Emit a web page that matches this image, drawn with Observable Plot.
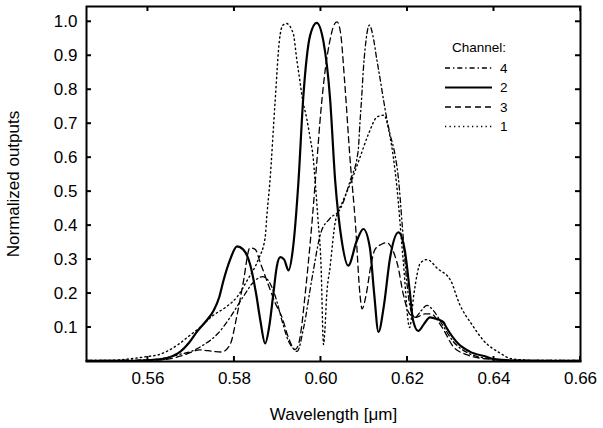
<!DOCTYPE html>
<html><head><meta charset="utf-8">
<script src="https://cdn.jsdelivr.net/npm/d3@7"></script>
<script src="https://cdn.jsdelivr.net/npm/@observablehq/plot@0.6"></script>
<style>body{margin:0;background:#fff;} svg{display:block}</style>
</head><body><div id="chart"></div>
<script>
// ---- data ----
const xTicks = [0.56, 0.58, 0.60, 0.62, 0.64, 0.66];
const yTicks = [0.1, 0.2, 0.3, 0.4, 0.5, 0.6, 0.7, 0.8, 0.9, 1.0];
const legendOrder = ["4", "2", "3", "1"];

const ch1Wavelength = [0.5458,0.552,0.556,0.56,0.5625,0.5644,0.567,0.5695,0.572,0.575,0.578,0.5806,0.583,0.5855,0.5871,0.5875,0.5882,0.5894,0.5904,0.5912,0.592,0.5936,0.5944,0.5952,0.5957,0.5967,0.5975,0.5982,0.5986,0.5993,0.6,0.6006,0.6009,0.6013,0.6021,0.6033,0.605,0.607,0.609,0.611,0.613,0.6145,0.616,0.6175,0.619,0.6205,0.6215,0.623,0.6245,0.627,0.63,0.632,0.635,0.6375,0.6415,0.644,0.65,0.66];
const ch1Output     = [0.003,0.004,0.008,0.015,0.02,0.03,0.05,0.075,0.1,0.135,0.16,0.19,0.24,0.3,0.365,0.43,0.53,0.765,0.946,0.99,0.995,0.965,0.89,0.82,0.775,0.716,0.658,0.6,0.54,0.42,0.29,0.05,0.09,0.19,0.277,0.41,0.47,0.53,0.6,0.67,0.72,0.725,0.66,0.52,0.3,0.1,0.2,0.29,0.3,0.273,0.238,0.17,0.107,0.063,0.024,0.008,0.003,0.003];

const ch2Wavelength = [0.5458,0.556,0.56,0.5625,0.5644,0.566,0.5675,0.5695,0.5713,0.5735,0.5752,0.5765,0.5775,0.579,0.5806,0.582,0.5836,0.585,0.586,0.5871,0.588,0.589,0.5898,0.5906,0.5915,0.5925,0.5935,0.5948,0.5959,0.5975,0.599,0.6006,0.6021,0.6033,0.6048,0.6063,0.6083,0.6098,0.6113,0.6123,0.6133,0.6145,0.616,0.6179,0.6194,0.6205,0.6213,0.6225,0.6238,0.6252,0.6268,0.6283,0.629,0.6317,0.6344,0.6383,0.64,0.645,0.66];
const ch2Output     = [0.002,0.002,0.004,0.006,0.01,0.018,0.029,0.055,0.087,0.12,0.15,0.19,0.24,0.3,0.339,0.33,0.287,0.2,0.12,0.053,0.1,0.2,0.28,0.307,0.3,0.268,0.33,0.53,0.775,0.96,0.997,0.94,0.775,0.53,0.356,0.282,0.356,0.39,0.336,0.2,0.087,0.16,0.307,0.38,0.326,0.21,0.121,0.09,0.11,0.13,0.125,0.116,0.1,0.053,0.029,0.014,0.007,0.003,0.002];

const ch3Wavelength = [0.5458,0.56,0.565,0.5685,0.572,0.575,0.577,0.579,0.5805,0.582,0.5836,0.5848,0.586,0.588,0.5895,0.591,0.5925,0.594,0.5948,0.5955,0.5962,0.597,0.598,0.599,0.6,0.601,0.602,0.603,0.6037,0.6045,0.6055,0.6067,0.608,0.609,0.6095,0.6105,0.6115,0.6125,0.614,0.6152,0.6165,0.6178,0.619,0.6205,0.622,0.624,0.6255,0.627,0.6285,0.6305,0.6337,0.638,0.645,0.66];
const ch3Output     = [0.002,0.003,0.008,0.02,0.034,0.03,0.028,0.05,0.13,0.23,0.335,0.33,0.29,0.22,0.17,0.13,0.07,0.035,0.05,0.1,0.18,0.28,0.42,0.58,0.74,0.86,0.94,0.99,1.0,0.97,0.82,0.6,0.4,0.2,0.155,0.2,0.28,0.33,0.345,0.35,0.33,0.28,0.2,0.14,0.13,0.14,0.14,0.12,0.09,0.045,0.02,0.008,0.003,0.002];

const ch4Wavelength = [0.5458,0.561,0.564,0.567,0.57,0.573,0.576,0.579,0.582,0.5845,0.5865,0.588,0.5895,0.591,0.5925,0.5935,0.5945,0.596,0.598,0.6,0.602,0.6045,0.6067,0.6086,0.609,0.6094,0.6098,0.6102,0.6112,0.612,0.6129,0.6137,0.6144,0.6152,0.616,0.6171,0.6179,0.6188,0.6198,0.6208,0.6218,0.6232,0.6245,0.626,0.628,0.6305,0.634,0.638,0.645,0.66];
const ch4Output     = [0.003,0.005,0.01,0.02,0.03,0.05,0.08,0.13,0.19,0.235,0.25,0.235,0.19,0.12,0.06,0.04,0.03,0.1,0.25,0.38,0.42,0.45,0.53,0.62,0.7,0.775,0.86,0.92,0.99,0.96,0.89,0.83,0.775,0.716,0.668,0.61,0.54,0.4,0.24,0.15,0.13,0.15,0.165,0.15,0.11,0.06,0.025,0.01,0.003,0.003];

const series = [
  {channel: "1", wl: ch1Wavelength, out: ch1Output},
  {channel: "2", wl: ch2Wavelength, out: ch2Output},
  {channel: "3", wl: ch3Wavelength, out: ch3Output},
  {channel: "4", wl: ch4Wavelength, out: ch4Output}
];
const lineStyle = {
  "1": {dash: "1.3,3.2", width: 1.4},
  "2": {dash: null, width: 2.2},
  "3": {dash: "6,4", width: 1.3},
  "4": {dash: "5,3,1.3,3", width: 1.3}
};

const rows = series.flatMap(s => s.wl.map((w, i) => ({channel: s.channel, wavelength: w, output: s.out[i]})));

const W = 603, H = 428;
const font = "'Liberation Sans', Arial, Helvetica, sans-serif";

const plot = Plot.plot({
  width: W, height: H,
  marginLeft: 86, marginRight: 23, marginTop: 6, marginBottom: 67,
  style: {fontFamily: font, fontSize: "17px", background: "#fff", color: "#000"},
  x: {domain: [0.5458, 0.66]},
  y: {domain: [0.0, 1.045]},
  marks: [
    ...series.map(s => Plot.line(rows.filter(r => r.channel === s.channel), {
      x: "wavelength", y: "output", stroke: "#000",
      strokeWidth: lineStyle[s.channel].width,
      strokeDasharray: lineStyle[s.channel].dash,
      curve: "monotone-x"
    })),
    Plot.axisX(xTicks, {anchor: "bottom", tickSize: 0, tickPadding: 10, tickFormat: d3.format(".2f"), fontSize: 17,
      label: "Wavelength [μm]", labelAnchor: "center", labelArrow: "none", labelOffset: 58}),
    Plot.axisY(yTicks, {anchor: "left", tickSize: 0, tickPadding: 9, tickFormat: d3.format(".1f"), fontSize: 17,
      label: "Normalized outputs", labelAnchor: "center", labelArrow: "none", labelOffset: 80}),
    Plot.frame({stroke: "#000", strokeWidth: 2})
  ]
});
document.getElementById("chart").appendChild(plot);

// inward ticks on all four sides, positioned with Plot's own scales
const xs = plot.scale("x"), ys = plot.scale("y");
const [fx0, fx1] = xs.range;
const [fyB, fyT] = ys.range;
const svg = d3.select(plot);
const tg = svg.append("g").attr("stroke", "#000").attr("stroke-width", 2);
const tl = 5;
xTicks.forEach(v => {
  const px = xs.apply(v);
  tg.append("line").attr("x1", px).attr("x2", px).attr("y1", fyB).attr("y2", fyB - tl);
  tg.append("line").attr("x1", px).attr("x2", px).attr("y1", fyT).attr("y2", fyT + tl);
});
yTicks.forEach(v => {
  const py = ys.apply(v);
  tg.append("line").attr("y1", py).attr("y2", py).attr("x1", fx0).attr("x2", fx0 + tl);
  tg.append("line").attr("y1", py).attr("y2", py).attr("x1", fx1).attr("x2", fx1 - tl);
});

// legend inside the frame
const lg = svg.append("g").attr("font-family", font).attr("font-size", 13.5).attr("fill", "#000").attr("text-anchor", "start");
const lx0 = fx1 - 135, lx1 = fx1 - 88, ltx = fx1 - 80;
const ly0 = fyT + 41;
lg.append("text").attr("x", lx0 + 7).attr("y", ly0).attr("dy", "0.35em").text("Channel:");
legendOrder.forEach((c, i) => {
  const yy = ly0 + 21 + i * 19.5;
  lg.append("line").attr("x1", lx0).attr("x2", lx1).attr("y1", yy).attr("y2", yy)
    .attr("stroke", "#000").attr("stroke-width", lineStyle[c].width)
    .attr("stroke-dasharray", lineStyle[c].dash);
  lg.append("text").attr("x", ltx).attr("y", yy).attr("dy", "0.35em").text(c);
});
</script>
</body></html>
